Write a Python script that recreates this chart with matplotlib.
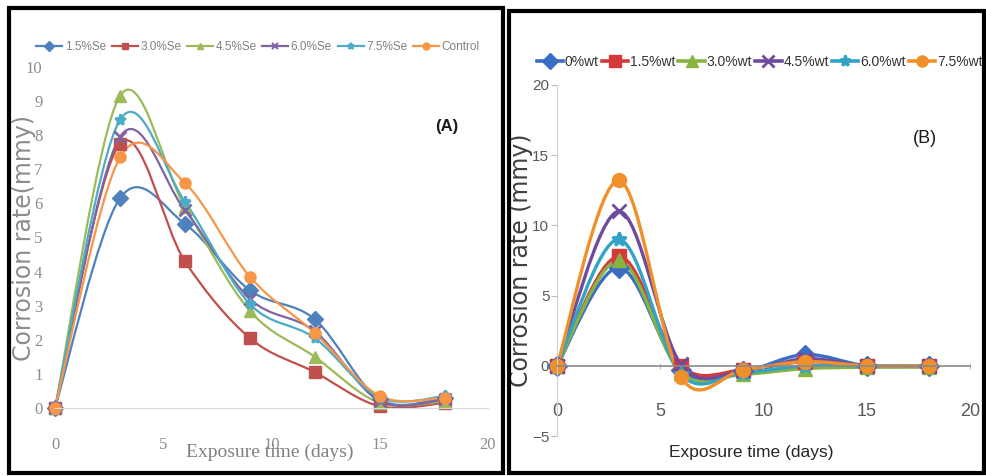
import matplotlib
matplotlib.use("Agg")
import matplotlib.pyplot as plt
from matplotlib.path import Path
from matplotlib.patches import PathPatch, Rectangle
from matplotlib.lines import Line2D

# ---------------- data ----------------
days = [0, 3, 6, 9, 12, 15, 18]

labels_a = ["1.5%Se", "3.0%Se", "4.5%Se", "6.0%Se", "7.5%Se", "Control"]
se_15 = [0, 6.15, 5.4, 3.45, 2.6, 0.25, 0.3]
se_30 = [0, 7.75, 4.3, 2.05, 1.05, 0.05, 0.15]
se_45 = [0, 9.15, 5.9, 2.85, 1.5, 0.15, 0.2]
se_60 = [0, 7.95, 5.8, 3.2, 2.25, 0.2, 0.25]
se_75 = [0, 8.45, 6.05, 3.05, 2.05, 0.3, 0.35]
control = [0, 7.35, 6.6, 3.85, 2.2, 0.35, 0.3]

labels_b = ["0%wt", "1.5%wt", "3.0%wt", "4.5%wt", "6.0%wt", "7.5%wt"]
wt_0 = [0, 7.0, -0.3, -0.4, 0.8, 0.0, 0.0]
wt_15 = [0, 7.8, 0.0, -0.3, 0.3, 0.0, 0.0]
wt_30 = [0, 7.5, -0.5, -0.6, -0.2, -0.1, -0.1]
wt_45 = [0, 11.0, 0.1, -0.4, 0.5, 0.0, 0.0]
wt_60 = [0, 9.0, -0.6, -0.5, 0.0, 0.0, 0.0]
wt_75 = [0, 13.2, -0.8, -0.3, 0.3, 0.0, 0.0]

xticks = [0, 5, 10, 15, 20]
yticks_a = list(range(0, 11))
yticks_b = [-5, 0, 5, 10, 15, 20]

# ---------------- style ----------------
colors_a = ["#4F81BD", "#C0504D", "#9BBB59", "#8064A2", "#4BACC6", "#F79646"]
colors_b = ["#3C6DC5", "#D6393A", "#86B43E", "#6E4B9E", "#31A3C9", "#F0902A"]
markers = ["D", "s", "^", "x", "*", "o"]

SANS = ["Liberation Sans", "DejaVu Sans"]
SERIF = ["Liberation Serif", "DejaVu Serif"]

W, H = 987, 476
fig = plt.figure(figsize=(W / 100, H / 100), dpi=100)


def fx(px):
    return px / W


def fy(py):
    return 1 - py / H


def smooth_path(xs, ys):
    n = len(xs)
    verts = [(xs[0], ys[0])]
    codes = [Path.MOVETO]
    for i in range(n - 1):
        x0, y0 = (xs[i - 1], ys[i - 1]) if i > 0 else (xs[i], ys[i])
        x1, y1 = xs[i], ys[i]
        x2, y2 = xs[i + 1], ys[i + 1]
        x3, y3 = (xs[i + 2], ys[i + 2]) if i + 2 < n else (x2, y2)
        c1 = (x1 + (x2 - x0) / 6, y1 + (y2 - y0) / 6)
        c2 = (x2 - (x3 - x1) / 6, y2 - (y3 - y1) / 6)
        verts += [c1, c2, (x2, y2)]
        codes += [Path.CURVE4] * 3
    return Path(verts, codes)


def draw_series(ax, ys, color, marker, lw, ms):
    patch = PathPatch(smooth_path(days, ys), fill=False, edgecolor=color,
                      lw=lw, transform=ax.transData, capstyle="round",
                      joinstyle="round")
    ax.add_patch(patch)
    mew = 2 if marker in ("x", "*") else 1
    ax.plot(days, ys, linestyle="none", marker=marker, color=color,
            markersize=ms, markeredgewidth=mew, clip_on=False)


# ---------------- panel A ----------------
axA = fig.add_axes([fx(55), fy(408), fx(488) - fx(55), fy(67) - fy(408)])
axA.set_xlim(0, 20)
axA.set_ylim(0, 10)
series_a = [se_15, se_30, se_45, se_60, se_75, control]
for ys, c, m in zip(series_a, colors_a, markers):
    draw_series(axA, ys, c, m, 1.6, 8)
for s in ["top", "right", "left"]:
    axA.spines[s].set_visible(False)
axA.spines["bottom"].set_color("#d9d9d9")
axA.set_xticks(xticks)
axA.set_yticks(yticks_a)
axA.tick_params(axis="both", length=0, colors="#8c8c8c", labelsize=12)
axA.tick_params(axis="x", pad=21)
axA.tick_params(axis="y", pad=9)
for lab in axA.get_xticklabels() + axA.get_yticklabels():
    lab.set_family(SERIF)
fig.text(fx(270), fy(452), "Exposure time (days)", family=SERIF,
         fontsize=14, color="#808080", ha="center", va="center")
fig.text(fx(31), fy(238), "Corrosion rate(mmy)", family="DejaVu Sans",
         fontsize=17, color="#8c8c8c", rotation=90, ha="center",
         va="baseline", rotation_mode="anchor")
fig.text(fx(447), fy(127), "(A)", fontsize=12, fontweight="bold",
         family=SANS, ha="center", va="center", color="#1a1a1a")
handles_a = [Line2D([], [], color=c, marker=m, lw=1.6, markersize=5,
                    markeredgewidth=1.5 if m in ("x", "*") else 1)
             for c, m in zip(colors_a, markers)]
legA = fig.legend(handles_a, labels_a, ncol=6, loc="center",
                  bbox_to_anchor=(fx(258), fy(47)), frameon=False,
                  handlelength=2.2, handletextpad=0.2, columnspacing=0.5,
                  prop={"family": SANS, "size": 8.5})
for t in legA.get_texts():
    t.set_color("#808080")

# ---------------- panel B ----------------
axB = fig.add_axes([fx(557), fy(436), fx(970) - fx(557), fy(85) - fy(436)])
axB.set_xlim(0, 20)
axB.set_ylim(-5, 20)
series_b = [wt_0, wt_15, wt_30, wt_45, wt_60, wt_75]
for ys, c, m in zip(series_b, colors_b, markers):
    draw_series(axB, ys, c, m, 2.4, 10)
axB.spines["top"].set_visible(False)
axB.spines["right"].set_visible(False)
axB.spines["left"].set_color("#d0d0d0")
axB.spines["bottom"].set_position(("data", 0))
axB.spines["bottom"].set_color("#8a8a8a")
axB.spines["bottom"].set_linewidth(1.2)
axB.set_xticks(xticks)
axB.set_yticks(yticks_b)
axB.tick_params(axis="both", labelsize=12, colors="#595959")
axB.tick_params(axis="x", direction="inout", length=5, pad=24,
                color="#bbbbbb", labelsize=13)
axB.tick_params(axis="y", direction="out", length=4, pad=1.5,
                color="#bbbbbb", labelsize=11)
for lab in axB.get_xticklabels() + axB.get_yticklabels():
    lab.set_family(SANS)
fig.text(fx(751), fy(452), "Exposure time (days)", family=SANS,
         fontsize=12.5, color="#262626", ha="center", va="center")
fig.text(fx(528), fy(260), "Corrosion rate (mmy)", family="DejaVu Sans",
         fontsize=17, color="#404040", rotation=90, ha="center",
         va="baseline", rotation_mode="anchor")
fig.text(fx(925), fy(138), "(B)", fontsize=13, family=SANS, ha="center",
         va="center", color="#1a1a1a")
handles_b = [Line2D([], [], color=c, marker=m, lw=2.6, markersize=8,
                    markeredgewidth=2 if m in ("x", "*") else 1)
             for c, m in zip(colors_b, markers)]
legB = fig.legend(handles_b, labels_b, ncol=6, loc="center left",
                  bbox_to_anchor=(fx(524), fy(62)), frameon=False,
                  handlelength=1.9, handletextpad=0.15, columnspacing=0.2,
                  prop={"family": SANS, "size": 10})
for t in legB.get_texts():
    t.set_color("#333333")

# ---------------- panel borders ----------------
fig.patches.append(Rectangle((fx(9), fy(473)), fx(503) - fx(9),
                             fy(8) - fy(473), transform=fig.transFigure,
                             fill=False, edgecolor="black", lw=3,
                             zorder=10))
fig.patches.append(Rectangle((fx(509), fy(473)), fx(984) - fx(509),
                             fy(11) - fy(473), transform=fig.transFigure,
                             fill=False, edgecolor="black", lw=3,
                             zorder=10))

fig.savefig("out.png", dpi=100)
